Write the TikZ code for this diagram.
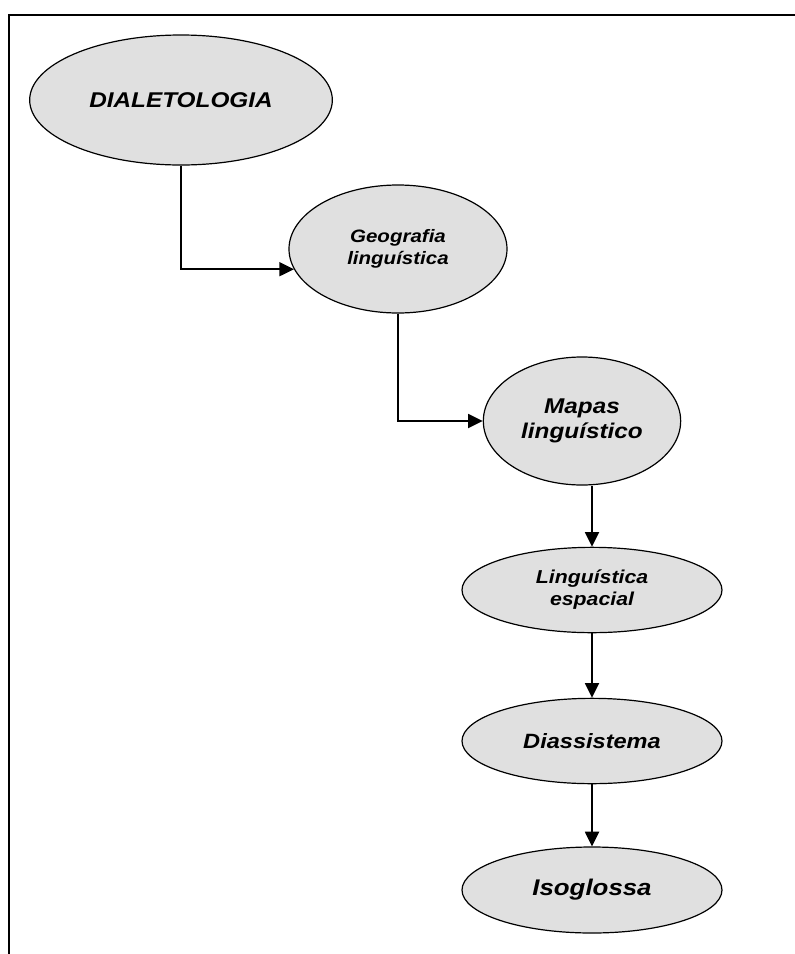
\documentclass[tikz,border=0pt]{standalone}
\usepackage{fontspec}
\newfontfamily\arialx[FakeStretch=1.14]{Liberation Sans}
\usetikzlibrary{arrows.meta,positioning,shapes.geometric}
\definecolor{cinza}{RGB}{224,224,224}
\newcommand{\tam}[2]{\arialx\bfseries\itshape\fontsize{#1}{#2}\selectfont}

\begin{document}
\begin{tikzpicture}[x=0.75pt,y=-0.75pt,
      fase/.style={
         ellipse,
         draw=black,
         line width=0.9pt,
         fill=cinza,
         inner sep=0pt,
         align=center},
       seta/.style={
        -{Triangle[length=11pt,width=10.5pt]},
        line width=1.4pt,
        }
]
      \useasboundingbox (0,0) rectangle (795,954);
      %moldura
      \draw[line width=1.5pt] (795,15) -- (9,15) -- (9,954);

      \node[fase,minimum width=227pt,minimum height=97.5pt,font=\tam{16}{19}] (dial) at (181,100) {DIALETOLOGIA};
      \node[fase,minimum width=163.5pt,minimum height=96pt,font=\tam{13.5}{16.5}] (geo) at (398,249) {Geografia\\lingu\'istica};
      \node[fase,minimum width=148pt,minimum height=96pt,font=\tam{16}{19}] (map) at (582,421) {Mapas\\lingu\'istico};

      \node[fase,minimum width=195pt,minimum height=64pt,font=\tam{14}{16.5}] (lin) at (592,590) {Lingu\'istica\\espacial};
      \node[fase,minimum width=195pt,minimum height=64pt,font=\tam{15.5}{18}] (dia) at (592,741) {Diassistema};
      \node[fase,minimum width=195pt,minimum height=64.5pt,font=\tam{17}{20}] (iso) at (592,890) {Isoglossa};

      \draw[seta] (dial.south) |- (geo.191);
      \draw[seta] (geo.south) |- (map.west);
      \draw[seta] (map.south -| lin.north) -- (lin.north);
      \draw[seta] (lin.south) -- (dia.north);
      \draw[seta] (dia.south) -- (iso.north);

\end{tikzpicture}
\end{document}
